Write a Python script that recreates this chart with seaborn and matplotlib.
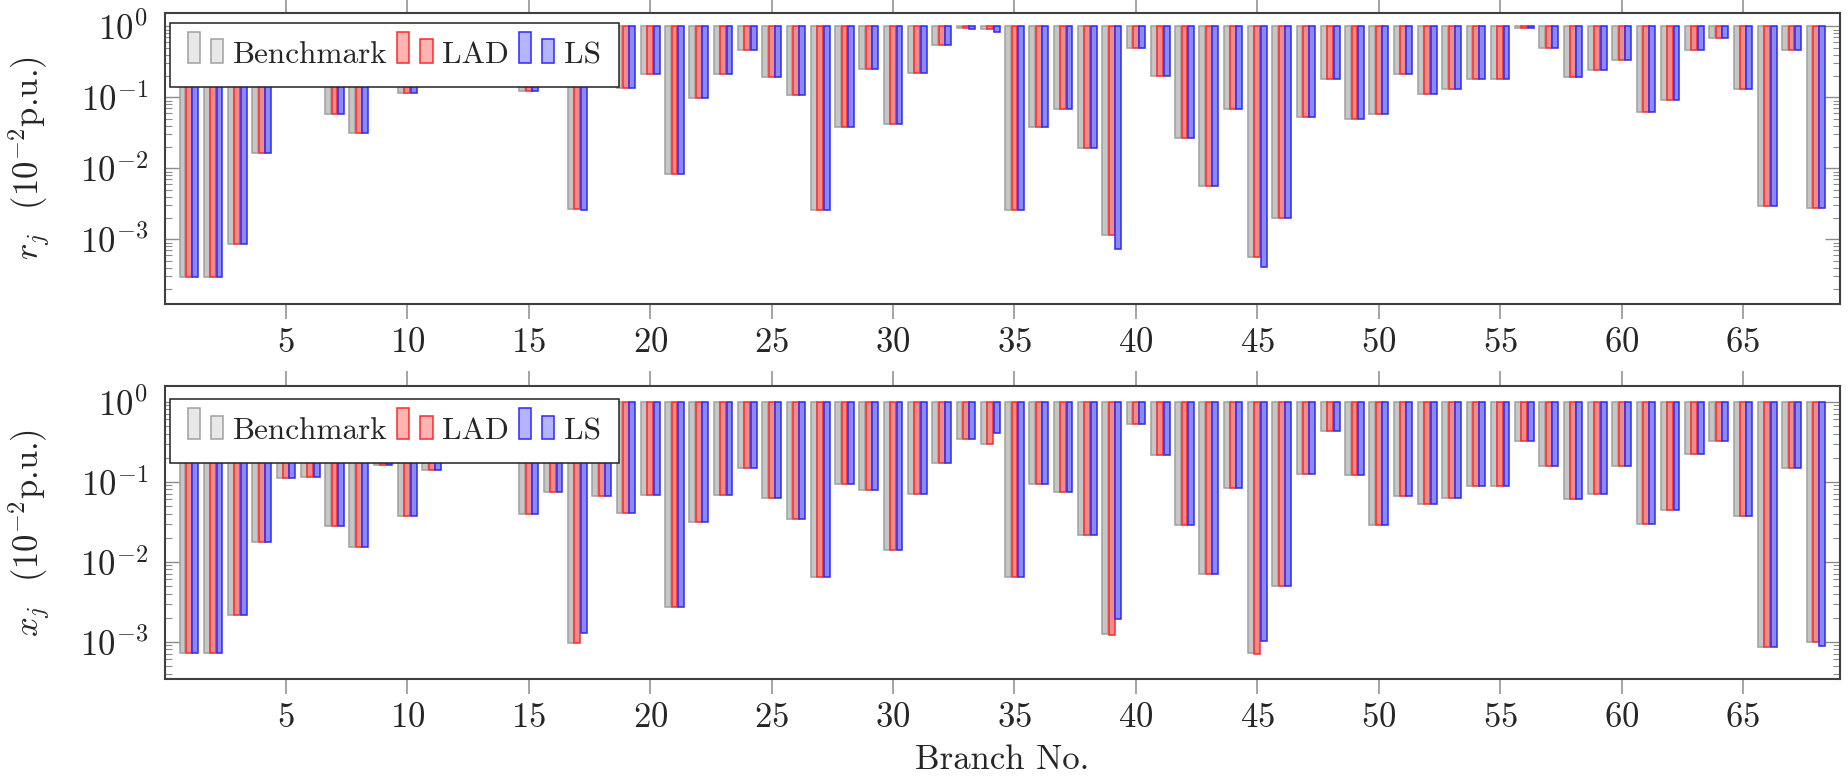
import numpy as np
import pandas as pd
import matplotlib
matplotlib.use("Agg")
import matplotlib.pyplot as plt
import seaborn as sns
from matplotlib.patches import Patch, Rectangle
from matplotlib.legend_handler import HandlerBase
from matplotlib.ticker import LogLocator, NullFormatter

# --- data (values in 10^-2 p.u.) ---
branches = list(range(1, 69))
methods = ["Benchmark", "LAD", "LS"]

r_benchmark = [2.9e-4, 2.9e-4, 8.6e-4, 0.0163, 0.30, 0.30, 0.059, 0.031, 0.40, 0.116,
               0.35, 0.50, 0.45, 0.30, 0.124, 0.30, 0.0027, 0.30, 0.134, 0.213,
               0.0084, 0.097, 0.215, 0.46, 0.191, 0.108, 0.00259, 0.038, 0.25, 0.0426,
               0.222, 0.54, 0.96, 0.92, 0.00259, 0.038, 0.069, 0.0195, 0.00114, 0.49,
               0.20, 0.0265, 0.0056, 0.069, 5.7e-4, 0.0020, 0.052, 0.181, 0.050, 0.059,
               0.215, 0.110, 0.130, 0.181, 0.181, 0.96, 0.50, 0.191, 0.243, 0.33,
               0.0615, 0.093, 0.46, 0.68, 0.13, 0.0029, 0.46, 0.0028]
r_lad = [2.9e-4, 2.9e-4, 8.6e-4, 0.0163, 0.30, 0.30, 0.059, 0.031, 0.40, 0.116,
         0.35, 0.50, 0.45, 0.30, 0.124, 0.30, 0.0027, 0.30, 0.134, 0.213,
         0.0084, 0.097, 0.215, 0.46, 0.191, 0.108, 0.00259, 0.038, 0.25, 0.0426,
         0.222, 0.54, 0.95, 0.92, 0.00259, 0.038, 0.069, 0.0195, 0.00114, 0.49,
         0.20, 0.0265, 0.0056, 0.069, 5.7e-4, 0.0020, 0.052, 0.181, 0.050, 0.059,
         0.215, 0.110, 0.130, 0.181, 0.181, 0.96, 0.50, 0.191, 0.243, 0.33,
         0.0615, 0.093, 0.46, 0.68, 0.13, 0.0029, 0.46, 0.0028]
r_ls = [2.9e-4, 2.9e-4, 8.6e-4, 0.0163, 0.30, 0.30, 0.059, 0.031, 0.40, 0.116,
        0.35, 0.50, 0.45, 0.30, 0.124, 0.30, 0.0026, 0.30, 0.134, 0.213,
        0.0084, 0.097, 0.215, 0.46, 0.191, 0.108, 0.00259, 0.038, 0.25, 0.0426,
        0.222, 0.54, 0.93, 0.84, 0.00259, 0.038, 0.069, 0.0195, 7.4e-4, 0.49,
        0.20, 0.0265, 0.0056, 0.069, 4.1e-4, 0.0020, 0.052, 0.181, 0.050, 0.059,
        0.215, 0.110, 0.130, 0.181, 0.181, 0.96, 0.50, 0.191, 0.243, 0.33,
        0.0615, 0.093, 0.46, 0.68, 0.13, 0.0029, 0.46, 0.0028]

x_benchmark = [7.2e-4, 7.2e-4, 0.00217, 0.0177, 0.112, 0.114, 0.0283, 0.0151, 0.163, 0.0374,
               0.142, 0.30, 0.45, 0.35, 0.039, 0.074, 9.6e-4, 0.0656, 0.041, 0.0676,
               0.00275, 0.0315, 0.069, 0.149, 0.062, 0.034, 0.0065, 0.094, 0.079, 0.014,
               0.071, 0.172, 0.343, 0.297, 0.0065, 0.094, 0.074, 0.0217, 0.00125, 0.527,
               0.217, 0.029, 0.0070, 0.083, 7.2e-4, 0.0050, 0.126, 0.43, 0.122, 0.0286,
               0.067, 0.053, 0.063, 0.0875, 0.0875, 0.327, 0.158, 0.0614, 0.071, 0.157,
               0.030, 0.0444, 0.219, 0.327, 0.0374, 8.6e-4, 0.149, 1.0e-3]
x_lad = [7.2e-4, 7.2e-4, 0.00217, 0.0177, 0.112, 0.114, 0.0283, 0.0151, 0.163, 0.0374,
         0.142, 0.30, 0.45, 0.35, 0.039, 0.074, 9.6e-4, 0.0656, 0.041, 0.0676,
         0.00275, 0.0315, 0.069, 0.149, 0.062, 0.034, 0.0065, 0.094, 0.079, 0.014,
         0.071, 0.172, 0.343, 0.297, 0.0065, 0.094, 0.074, 0.0217, 0.0012, 0.527,
         0.217, 0.029, 0.0070, 0.083, 7.0e-4, 0.0050, 0.126, 0.43, 0.122, 0.0286,
         0.067, 0.053, 0.063, 0.0875, 0.0875, 0.327, 0.158, 0.0614, 0.071, 0.157,
         0.030, 0.0444, 0.219, 0.327, 0.0374, 8.6e-4, 0.149, 1.0e-3]
x_ls = [7.2e-4, 7.2e-4, 0.00217, 0.0177, 0.112, 0.114, 0.0283, 0.0151, 0.163, 0.0374,
        0.142, 0.30, 0.45, 0.35, 0.039, 0.074, 0.00128, 0.0656, 0.041, 0.0676,
        0.00275, 0.0315, 0.069, 0.149, 0.062, 0.034, 0.0065, 0.094, 0.079, 0.014,
        0.071, 0.172, 0.343, 0.41, 0.0065, 0.094, 0.074, 0.0217, 0.0019, 0.527,
        0.217, 0.029, 0.0070, 0.083, 0.00103, 0.0050, 0.126, 0.43, 0.122, 0.0286,
        0.067, 0.053, 0.063, 0.0875, 0.0875, 0.327, 0.158, 0.0614, 0.071, 0.157,
        0.030, 0.0444, 0.219, 0.327, 0.0374, 8.6e-4, 0.149, 8.9e-4]

# --- style ---
fills = {"Benchmark": "#c6c6c6", "LAD": "#ff7a7a", "LS": "#7a7aff"}
edges = {"Benchmark": "#a0a0a0", "LAD": "#ff2a2a", "LS": "#2a2aff"}
legend_fills = {"Benchmark": "#e8e8e8", "LAD": "#ffb4b4", "LS": "#b4b4ff"}

sns.set_theme(style="white")
plt.rcParams["font.family"] = ["cmr10", "DejaVu Serif"]
plt.rcParams["mathtext.fontset"] = "cm"
plt.rcParams["axes.formatter.use_mathtext"] = True
plt.rcParams["axes.unicode_minus"] = False


class PairHandler(HandlerBase):
    # pgfplots-like ybar legend image: two small bars side by side
    def create_artists(self, legend, orig, xdescent, ydescent, width, height, fontsize, trans):
        bw = 0.35 * width
        arts = []
        for x0, hh in [(0.0, 1.43 * height), (0.65 * width, 1.09 * height)]:
            arts.append(Rectangle((x0 - xdescent, -ydescent), bw, hh,
                                  facecolor=orig.get_facecolor(), edgecolor=orig.get_edgecolor(),
                                  lw=orig.get_linewidth(), transform=trans))
        return arts


def panel(ax, bench, lad, ls, ylabel, ylim, leg_top):
    df = pd.DataFrame({
        "branch": branches * 3,
        "method": np.repeat(methods, len(branches)),
        "value": bench + lad + ls,
    })
    df["drop"] = df["value"] - 1.0  # bars hang down from 10^0
    sns.barplot(data=df, x="branch", y="drop", hue="method", hue_order=methods,
                palette=fills, native_scale=True, width=0.79, gap=0.08,
                errorbar=None, legend=False, bottom=1.0, linewidth=1.1, ax=ax)
    for cont, m in zip(ax.containers, methods):
        for bar in cont:
            bar.set_edgecolor(edges[m])

    ax.set_yscale("log")
    ax.set_ylim(*ylim)
    ax.set_xlim(0, 69)
    ax.set_xticks(range(5, 66, 5))
    ax.yaxis.set_minor_locator(LogLocator(base=10, subs=range(2, 10), numticks=50))
    ax.yaxis.set_minor_formatter(NullFormatter())

    ax.tick_params(axis="x", which="major", direction="out", length=10.5, width=1.1,
                   color="#8c8c8c", top=True, bottom=True, labelsize=25, pad=6)
    ax.tick_params(axis="y", which="major", direction="in", length=11, width=1.0,
                   color="#8c8c8c", left=True, right=True, labelsize=25, pad=12)
    ax.tick_params(axis="y", which="minor", direction="in", length=5, width=0.8,
                   color="#8c8c8c", left=True, right=True)
    for s in ax.spines.values():
        s.set_color("#404040")
        s.set_linewidth(1.5)

    ax.set_ylabel(ylabel, fontsize=25)
    ax.yaxis.set_label_coords(-0.067, 0.5)
    ax.set_xlabel("")

    handles = [Patch(facecolor=legend_fills[m], edgecolor=edges[m], lw=1.1) for m in methods]
    leg = ax.legend(handles, methods, loc="upper left", bbox_to_anchor=(0.003, leg_top),
                    ncol=3, fontsize=22.5, frameon=True, fancybox=False, framealpha=1,
                    edgecolor="#222222", borderaxespad=0, borderpad=0.58,
                    handlelength=1.14, handletextpad=0.31, columnspacing=0.3,
                    handler_map={Patch: PairHandler()})
    leg.get_frame().set_linewidth(1.1)


fig = plt.figure(figsize=(18.49, 7.82), dpi=100)
ax1 = fig.add_axes([0.089, 0.6113, 0.9062, 0.3725])
ax2 = fig.add_axes([0.089, 0.1317, 0.9062, 0.3747])

panel(ax1, r_benchmark, r_lad, r_ls, r"$r_j$  (10$^{-2}$p.u.)",
      (10 ** -3.911, 10 ** 0.1915), 0.9636)
panel(ax2, x_benchmark, x_lad, x_ls, r"$x_j$  (10$^{-2}$p.u.)",
      (10 ** -3.466, 10 ** 0.196), 0.9546)
ax2.set_xlabel("Branch No.", fontsize=25, labelpad=8)

fig.savefig("out.png", dpi=100)
